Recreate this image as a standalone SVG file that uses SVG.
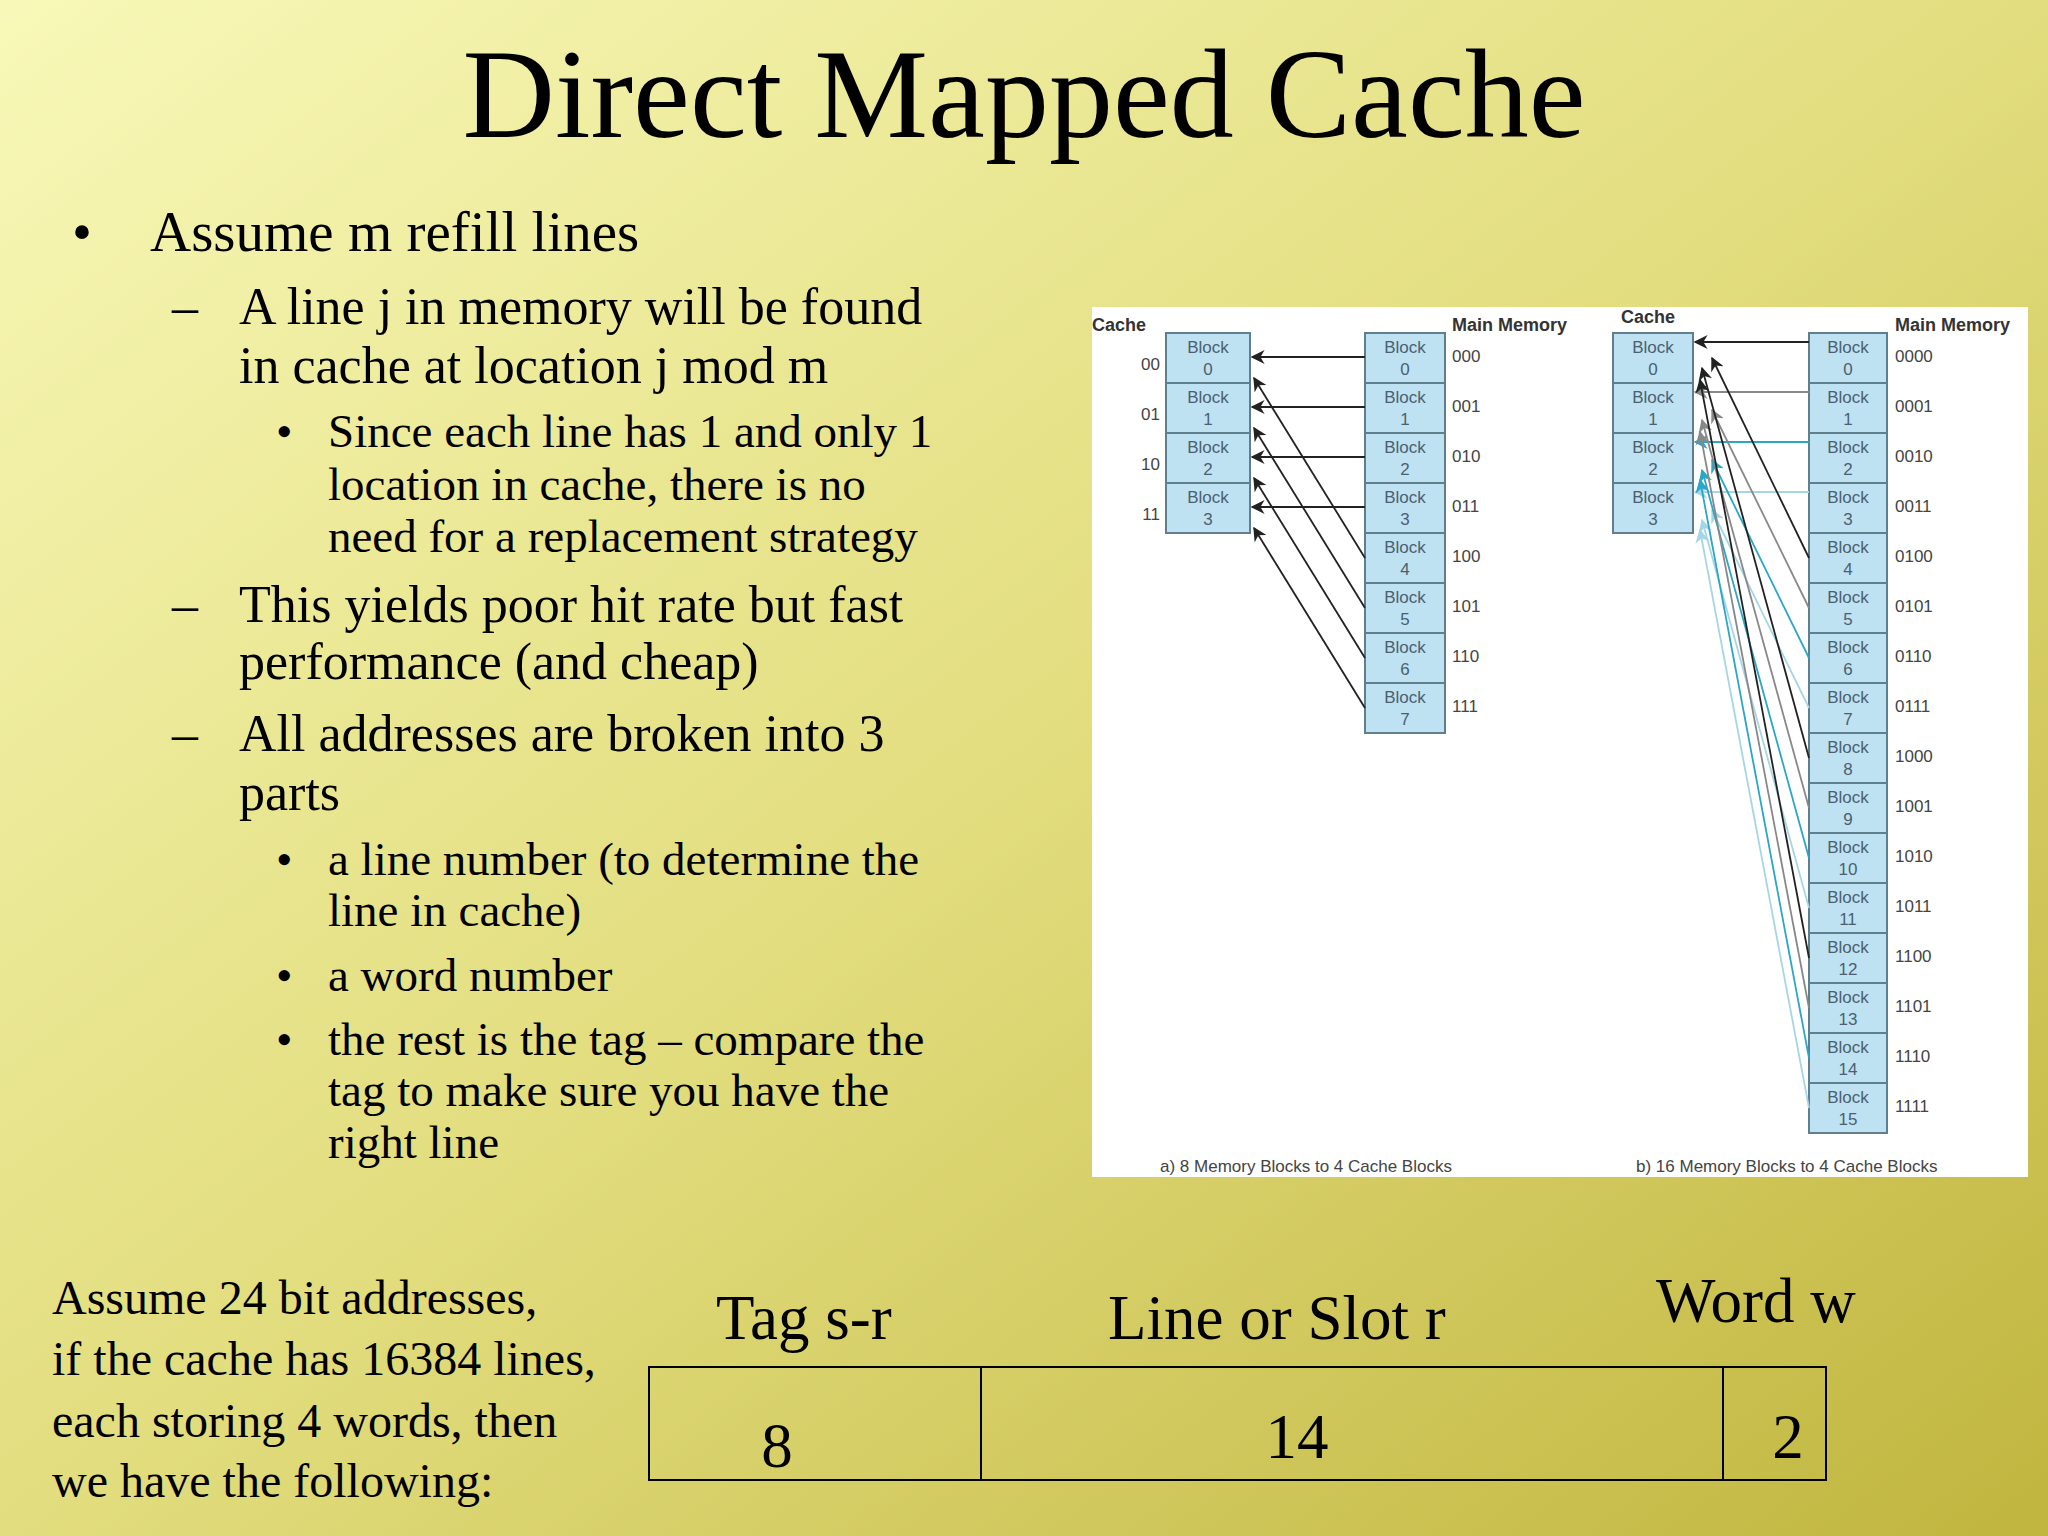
<svg xmlns="http://www.w3.org/2000/svg" width="2048" height="1536" viewBox="0 0 2048 1536">
<defs>
<linearGradient id="bg" x1="0" y1="0" x2="1" y2="1">
<stop offset="0" stop-color="#f8f8b8"/><stop offset="0.5" stop-color="#e2dd7e"/><stop offset="1" stop-color="#c0b53e"/>
</linearGradient>
<marker id="a0" viewBox="0 0 10 10" refX="9" refY="5" markerWidth="7" markerHeight="7" orient="auto" markerUnits="userSpaceOnUse"><path d="M0,0 L10,5 L0,10 L3,5 z" fill="#222"/></marker>
<marker id="ak" viewBox="0 0 10 10" refX="9" refY="5" markerWidth="14" markerHeight="14" orient="auto" markerUnits="userSpaceOnUse"><path d="M0,0 L10,5 L0,10 L3,5 z" fill="#222"/></marker>
<marker id="ag" viewBox="0 0 10 10" refX="9" refY="5" markerWidth="14" markerHeight="14" orient="auto" markerUnits="userSpaceOnUse"><path d="M0,0 L10,5 L0,10 L3,5 z" fill="#888"/></marker>
<marker id="ac" viewBox="0 0 10 10" refX="9" refY="5" markerWidth="14" markerHeight="14" orient="auto" markerUnits="userSpaceOnUse"><path d="M0,0 L10,5 L0,10 L3,5 z" fill="#2aa6c8"/></marker>
<marker id="al" viewBox="0 0 10 10" refX="9" refY="5" markerWidth="14" markerHeight="14" orient="auto" markerUnits="userSpaceOnUse"><path d="M0,0 L10,5 L0,10 L3,5 z" fill="#a6d6e6"/></marker>
</defs>
<style>
.t{font-family:"Liberation Serif","Times New Roman",serif;fill:#000}
.s{font-family:"Liberation Sans",Arial,sans-serif;fill:#444;font-size:17px}
.sb{font-family:"Liberation Sans",Arial,sans-serif;fill:#333;font-size:18px;font-weight:bold}
.b{fill:#bfe2f2;stroke:#5f7f8c;stroke-width:2}
.bt{font-family:"Liberation Sans",Arial,sans-serif;fill:#4a6070;font-size:17px;text-anchor:middle}
.k{stroke:#222;stroke-width:1.8;fill:none;marker-end:url(#ak)}
.g{stroke:#888;stroke-width:1.8;fill:none;marker-end:url(#ag)}
.c{stroke:#2aa6c8;stroke-width:1.8;fill:none;marker-end:url(#ac)}
.l{stroke:#a6d6e6;stroke-width:1.8;fill:none;marker-end:url(#al)}
</style>
<rect width="2048" height="1536" fill="url(#bg)"/>
<text class="t" x="1024" y="137" font-size="128" text-anchor="middle">Direct Mapped Cache</text>
<g id="bullets" class="t">
<text x="72" y="251" font-size="57">•</text>
<text x="150" y="251" font-size="57">Assume m refill lines</text>
<text x="172" y="324" font-size="52">–</text>
<text x="239" y="324" font-size="52">A line j in memory will be found</text>
<text x="239" y="383" font-size="52">in cache at location j mod m</text>
<text x="276" y="447" font-size="47">•</text>
<text x="328" y="447" font-size="47">Since each line has 1 and only 1</text>
<text x="328" y="500" font-size="47">location in cache, there is no</text>
<text x="328" y="552" font-size="47">need for a replacement strategy</text>
<text x="172" y="622" font-size="52">–</text>
<text x="239" y="622" font-size="52">This yields poor hit rate but fast</text>
<text x="239" y="679" font-size="52">performance (and cheap)</text>
<text x="172" y="751" font-size="52">–</text>
<text x="239" y="751" font-size="52">All addresses are broken into 3</text>
<text x="239" y="810" font-size="52">parts</text>
<text x="276" y="875" font-size="47">•</text>
<text x="328" y="875" font-size="47">a line number (to determine the</text>
<text x="328" y="926" font-size="47">line in cache)</text>
<text x="276" y="991" font-size="47">•</text>
<text x="328" y="991" font-size="47">a word number</text>
<text x="276" y="1055" font-size="47">•</text>
<text x="328" y="1055" font-size="47">the rest is the tag – compare the</text>
<text x="328" y="1106" font-size="47">tag to make sure you have the</text>
<text x="328" y="1158" font-size="47">right line</text>
</g>
<g id="figure">
<rect x="1092" y="307" width="936" height="870" fill="#fff"/>
<text class="sb" x="1092" y="331">Cache</text>
<text class="sb" x="1452" y="331">Main Memory</text>
<text class="sb" x="1621" y="323">Cache</text>
<text class="sb" x="1895" y="331">Main Memory</text>
<g id="cacheA">
<rect class="b" x="1166" y="333" width="84" height="50"/><text class="bt" x="1208" y="353">Block</text><text class="bt" x="1208" y="375">0</text>
<rect class="b" x="1166" y="383" width="84" height="50"/><text class="bt" x="1208" y="403">Block</text><text class="bt" x="1208" y="425">1</text>
<rect class="b" x="1166" y="433" width="84" height="50"/><text class="bt" x="1208" y="453">Block</text><text class="bt" x="1208" y="475">2</text>
<rect class="b" x="1166" y="483" width="84" height="50"/><text class="bt" x="1208" y="503">Block</text><text class="bt" x="1208" y="525">3</text>
<text class="s" x="1160" y="370" text-anchor="end">00</text>
<text class="s" x="1160" y="420" text-anchor="end">01</text>
<text class="s" x="1160" y="470" text-anchor="end">10</text>
<text class="s" x="1160" y="520" text-anchor="end">11</text>
</g>
<g id="memA">
<rect class="b" x="1365" y="333" width="80" height="50"/><text class="bt" x="1405" y="353">Block</text><text class="bt" x="1405" y="375">0</text>
<rect class="b" x="1365" y="383" width="80" height="50"/><text class="bt" x="1405" y="403">Block</text><text class="bt" x="1405" y="425">1</text>
<rect class="b" x="1365" y="433" width="80" height="50"/><text class="bt" x="1405" y="453">Block</text><text class="bt" x="1405" y="475">2</text>
<rect class="b" x="1365" y="483" width="80" height="50"/><text class="bt" x="1405" y="503">Block</text><text class="bt" x="1405" y="525">3</text>
<rect class="b" x="1365" y="533" width="80" height="50"/><text class="bt" x="1405" y="553">Block</text><text class="bt" x="1405" y="575">4</text>
<rect class="b" x="1365" y="583" width="80" height="50"/><text class="bt" x="1405" y="603">Block</text><text class="bt" x="1405" y="625">5</text>
<rect class="b" x="1365" y="633" width="80" height="50"/><text class="bt" x="1405" y="653">Block</text><text class="bt" x="1405" y="675">6</text>
<rect class="b" x="1365" y="683" width="80" height="50"/><text class="bt" x="1405" y="703">Block</text><text class="bt" x="1405" y="725">7</text>
<text class="s" x="1452" y="362">000</text><text class="s" x="1452" y="412">001</text><text class="s" x="1452" y="462">010</text><text class="s" x="1452" y="512">011</text>
<text class="s" x="1452" y="562">100</text><text class="s" x="1452" y="612">101</text><text class="s" x="1452" y="662">110</text><text class="s" x="1452" y="712">111</text>
</g>
<g id="cacheB">
<rect class="b" x="1613" y="333" width="80" height="50"/><text class="bt" x="1653" y="353">Block</text><text class="bt" x="1653" y="375">0</text>
<rect class="b" x="1613" y="383" width="80" height="50"/><text class="bt" x="1653" y="403">Block</text><text class="bt" x="1653" y="425">1</text>
<rect class="b" x="1613" y="433" width="80" height="50"/><text class="bt" x="1653" y="453">Block</text><text class="bt" x="1653" y="475">2</text>
<rect class="b" x="1613" y="483" width="80" height="50"/><text class="bt" x="1653" y="503">Block</text><text class="bt" x="1653" y="525">3</text>
</g>
<g id="memB">
<rect class="b" x="1809" y="333" width="78" height="50"/><text class="bt" x="1848" y="353">Block</text><text class="bt" x="1848" y="375">0</text>
<rect class="b" x="1809" y="383" width="78" height="50"/><text class="bt" x="1848" y="403">Block</text><text class="bt" x="1848" y="425">1</text>
<rect class="b" x="1809" y="433" width="78" height="50"/><text class="bt" x="1848" y="453">Block</text><text class="bt" x="1848" y="475">2</text>
<rect class="b" x="1809" y="483" width="78" height="50"/><text class="bt" x="1848" y="503">Block</text><text class="bt" x="1848" y="525">3</text>
<rect class="b" x="1809" y="533" width="78" height="50"/><text class="bt" x="1848" y="553">Block</text><text class="bt" x="1848" y="575">4</text>
<rect class="b" x="1809" y="583" width="78" height="50"/><text class="bt" x="1848" y="603">Block</text><text class="bt" x="1848" y="625">5</text>
<rect class="b" x="1809" y="633" width="78" height="50"/><text class="bt" x="1848" y="653">Block</text><text class="bt" x="1848" y="675">6</text>
<rect class="b" x="1809" y="683" width="78" height="50"/><text class="bt" x="1848" y="703">Block</text><text class="bt" x="1848" y="725">7</text>
<rect class="b" x="1809" y="733" width="78" height="50"/><text class="bt" x="1848" y="753">Block</text><text class="bt" x="1848" y="775">8</text>
<rect class="b" x="1809" y="783" width="78" height="50"/><text class="bt" x="1848" y="803">Block</text><text class="bt" x="1848" y="825">9</text>
<rect class="b" x="1809" y="833" width="78" height="50"/><text class="bt" x="1848" y="853">Block</text><text class="bt" x="1848" y="875">10</text>
<rect class="b" x="1809" y="883" width="78" height="50"/><text class="bt" x="1848" y="903">Block</text><text class="bt" x="1848" y="925">11</text>
<rect class="b" x="1809" y="933" width="78" height="50"/><text class="bt" x="1848" y="953">Block</text><text class="bt" x="1848" y="975">12</text>
<rect class="b" x="1809" y="983" width="78" height="50"/><text class="bt" x="1848" y="1003">Block</text><text class="bt" x="1848" y="1025">13</text>
<rect class="b" x="1809" y="1033" width="78" height="50"/><text class="bt" x="1848" y="1053">Block</text><text class="bt" x="1848" y="1075">14</text>
<rect class="b" x="1809" y="1083" width="78" height="50"/><text class="bt" x="1848" y="1103">Block</text><text class="bt" x="1848" y="1125">15</text>
<text class="s" x="1895" y="362">0000</text><text class="s" x="1895" y="412">0001</text><text class="s" x="1895" y="462">0010</text><text class="s" x="1895" y="512">0011</text>
<text class="s" x="1895" y="562">0100</text><text class="s" x="1895" y="612">0101</text><text class="s" x="1895" y="662">0110</text><text class="s" x="1895" y="712">0111</text>
<text class="s" x="1895" y="762">1000</text><text class="s" x="1895" y="812">1001</text><text class="s" x="1895" y="862">1010</text><text class="s" x="1895" y="912">1011</text>
<text class="s" x="1895" y="962">1100</text><text class="s" x="1895" y="1012">1101</text><text class="s" x="1895" y="1062">1110</text><text class="s" x="1895" y="1112">1111</text>
</g>
<text class="s" x="1160" y="1172">a) 8 Memory Blocks to 4 Cache Blocks</text>
<text class="s" x="1636" y="1172">b) 16 Memory Blocks to 4 Cache Blocks</text>
</g>
<g id="connectors">
<line class="k" x1="1365" y1="357" x2="1252" y2="357"/>
<line class="k" x1="1365" y1="407" x2="1252" y2="407"/>
<line class="k" x1="1365" y1="457" x2="1252" y2="457"/>
<line class="k" x1="1365" y1="507" x2="1252" y2="507"/>
<line class="k" x1="1365" y1="558" x2="1254" y2="378"/>
<line class="k" x1="1365" y1="608" x2="1254" y2="428"/>
<line class="k" x1="1365" y1="658" x2="1254" y2="478"/>
<line class="k" x1="1365" y1="708" x2="1254" y2="528"/>
<line class="k" x1="1809" y1="342" x2="1695" y2="342"/>
<line class="g" x1="1809" y1="392" x2="1695" y2="392"/>
<line class="c" x1="1809" y1="442" x2="1695" y2="442"/>
<line class="l" x1="1809" y1="492" x2="1695" y2="492"/>
<line class="k" x1="1809" y1="558" x2="1712" y2="358"/>
<line class="g" x1="1809" y1="608" x2="1712" y2="410"/>
<line class="c" x1="1809" y1="658" x2="1712" y2="460"/>
<line class="l" x1="1809" y1="708" x2="1712" y2="510"/>
<line class="k" x1="1809" y1="758" x2="1702" y2="368"/>
<line class="g" x1="1809" y1="808" x2="1702" y2="420"/>
<line class="c" x1="1809" y1="858" x2="1702" y2="470"/>
<line class="l" x1="1809" y1="908" x2="1702" y2="520"/>
<line class="k" x1="1809" y1="958" x2="1700" y2="380"/>
<line class="g" x1="1809" y1="1008" x2="1700" y2="432"/>
<line class="c" x1="1809" y1="1058" x2="1700" y2="480"/>
<line class="l" x1="1809" y1="1108" x2="1700" y2="530"/>
</g>
<g id="address" class="t">
<text x="52" y="1314" font-size="48">Assume 24 bit addresses,</text>
<text x="52" y="1375" font-size="48">if the cache has 16384 lines,</text>
<text x="52" y="1437" font-size="48">each storing 4 words, then</text>
<text x="52" y="1497" font-size="48">we have the following:</text>
<text x="716" y="1339" font-size="63">Tag  s-r</text>
<text x="1108" y="1339" font-size="63">Line or Slot  r</text>
<text x="1656" y="1322" font-size="63">Word w</text>
<rect x="649" y="1367" width="1177" height="113" fill="none" stroke="#000" stroke-width="2"/>
<line x1="981" y1="1367" x2="981" y2="1480" stroke="#000" stroke-width="2"/>
<line x1="1723" y1="1367" x2="1723" y2="1480" stroke="#000" stroke-width="2"/>
<text x="777" y="1467" font-size="63" text-anchor="middle">8</text>
<text x="1297" y="1458" font-size="63" text-anchor="middle">14</text>
<text x="1788" y="1458" font-size="63" text-anchor="middle">2</text>
</g>
</svg>
